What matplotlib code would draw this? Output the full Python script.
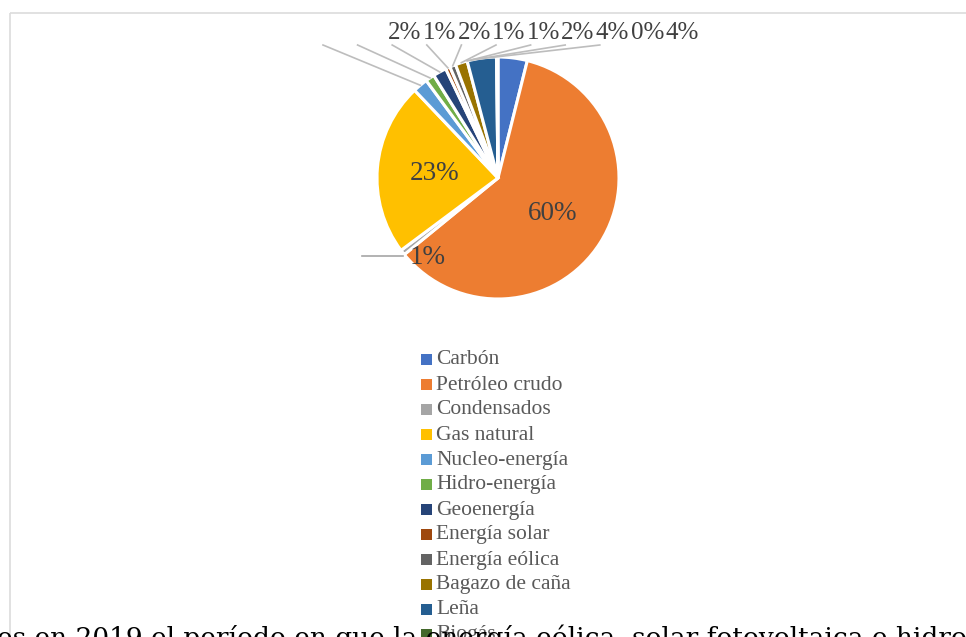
import numpy as np
import matplotlib
matplotlib.use("Agg")
import matplotlib.pyplot as plt
from matplotlib.patches import Rectangle

categories = ["Carbón", "Petróleo crudo", "Condensados", "Gas natural", "Nucleo-energía",
              "Hidro-energía", "Geoenergía", "Energía solar", "Energía eólica",
              "Bagazo de caña", "Leña", "Biogás"]
shares = [3.9, 60.2, 0.7, 23.1, 2.0, 1.2, 1.8, 0.6, 0.8, 1.6, 3.9, 0.2]
colors = ["#4472C4", "#ED7D31", "#A5A5A5", "#FFC000", "#5B9BD5", "#70AD47",
          "#264478", "#9E480E", "#636363", "#997300", "#255E91", "#43682B"]
body_text = "es en 2019 el período en que la energía eólica, solar fotovoltaica e hidro"

W, H = 966, 637
fig = plt.figure(figsize=(W / 100, H / 100), dpi=100)
fig.patch.set_facecolor("white")

# pie
cx, cy, R = 498, 178, 121
pax = fig.add_axes([(cx - R) / W, (H - cy - R) / H, 2 * R / W, 2 * R / H])
wedges, _ = pax.pie(shares, colors=colors, startangle=90, counterclock=False,
                    radius=1.0, wedgeprops=dict(edgecolor="white", linewidth=2.2))
pax.set_xlim(-1, 1)
pax.set_ylim(-1, 1)
pax.axis("off")
pax.set_zorder(1)

# overlay axes in pixel coordinates (on top of the pie)
ov = fig.add_axes([0, 0, 1, 1])
ov.set_xlim(0, W)
ov.set_ylim(H, 0)
ov.axis("off")
ov.set_zorder(2)

# chart frame
ov.add_patch(Rectangle((10, 13), 1000, 700, fill=False, edgecolor="#DCDCDC", lw=1.2))

tot = sum(shares)
cum = np.cumsum([0] + shares[:-1]) / tot * 360
mid = cum + np.array(shares) / tot * 180  # clockwise from top


def edge_pt(angle_deg, r=1.0):
    a = np.radians(angle_deg)
    return cx + R * r * np.sin(a), cy - R * r * np.cos(a)


label_color = "#404040"
lfont = dict(family="Liberation Serif", fontsize=18, color=label_color)

# inside labels
for i in (1, 3):
    x, y = edge_pt(mid[i], 0.53)
    ov.text(x, y + 1, f"{shares[i]:.0f}%", ha="center", va="center",
            family="Liberation Serif", fontsize=19.5, color=label_color)

# condensados label with leader
x, y = edge_pt(mid[2], 1.0)
ov.plot([362, x], [y + 4, y + 4], color="#A6A6A6", lw=1.2)
ov.text(428, y + 5, f"{shares[2]:.0f}%", ha="center", va="center",
        family="Liberation Serif", fontsize=19.5, color=label_color)

# top labels: small slices from Nucleo to Biogás, then Carbón
top_idx = [4, 5, 6, 7, 8, 9, 10, 11, 0]
leña_start = cum[10]
for k, i in enumerate(top_idx):
    lx = 405 + 34.6 * k
    ov.text(lx, 33, f"{shares[i]:.0f}%", ha="center", va="center", **lfont)
    ang = mid[i] if i not in (10, 11, 0) else leña_start + 1.5 * (top_idx.index(i) - 6)
    ex, ey = edge_pt(ang, 1.0)
    ov.plot([lx - 82, ex], [45, ey], color="#BDBDBD", lw=1.2, zorder=1)

# legend (manual)
for i, (name, col) in enumerate(zip(categories, colors)):
    yy = 360 + 25 * i
    ov.add_patch(Rectangle((421, yy - 6), 11, 11, facecolor=col, edgecolor="none"))
    ov.text(436, yy, name, ha="left", va="center", family="Liberation Serif",
            fontsize=15.5, color="#595959")

# body text below (cut off)
ov.text(-3, 646, body_text, ha="left", va="baseline", family="DejaVu Serif",
        fontsize=19, color="black", zorder=5)

fig.savefig("out.png", dpi=100)
